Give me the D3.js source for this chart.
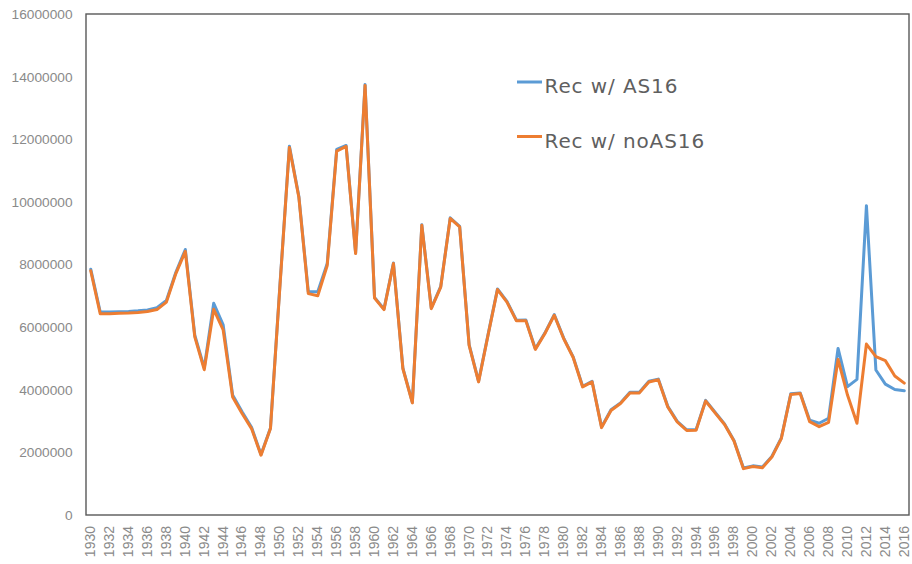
<!DOCTYPE html>
<html>
<head>
<meta charset="utf-8">
<script src="https://cdn.jsdelivr.net/npm/d3@7"></script>
<style>
  html, body { margin: 0; padding: 0; background: #fff; }
  svg { display: block; }
</style>
</head>
<body>
<svg id="chart" width="912" height="564"></svg>
<script>
const years = d3.range(1930, 2017);

const recAS16 = [
  7850000, 6490000, 6480000, 6490000, 6500000, 6520000, 6550000, 6620000, 6850000, 7750000,
  8480000, 5740000, 4700000, 6760000, 6070000, 3830000, 3300000, 2800000, 1930000, 2780000,
  7340000, 11780000, 10180000, 7130000, 7130000, 8030000, 11680000, 11800000, 8370000, 13750000,
  6950000, 6580000, 8050000, 4690000, 3600000, 9270000, 6610000, 7300000, 9490000, 9220000,
  5440000, 4270000, 5760000, 7220000, 6820000, 6220000, 6230000, 5310000, 5810000, 6400000,
  5650000, 5050000, 4110000, 4270000, 2810000, 3360000, 3580000, 3920000, 3920000, 4270000,
  4340000, 3470000, 2990000, 2720000, 2730000, 3660000, 3280000, 2910000, 2380000, 1500000,
  1570000, 1530000, 1870000, 2460000, 3870000, 3900000, 3030000, 2930000, 3090000, 5320000,
  4100000, 4330000, 9880000, 4630000, 4180000, 4010000, 3970000
];

const recNoAS16 = [
  7800000, 6430000, 6430000, 6440000, 6450000, 6470000, 6500000, 6560000, 6800000, 7710000,
  8420000, 5690000, 4640000, 6570000, 5910000, 3770000, 3240000, 2760000, 1910000, 2760000,
  7300000, 11740000, 10150000, 7070000, 7000000, 7970000, 11620000, 11770000, 8350000, 13720000,
  6930000, 6560000, 8030000, 4670000, 3580000, 9250000, 6590000, 7280000, 9470000, 9200000,
  5420000, 4250000, 5740000, 7200000, 6800000, 6200000, 6200000, 5290000, 5790000, 6380000,
  5630000, 5030000, 4090000, 4250000, 2790000, 3340000, 3560000, 3900000, 3900000, 4250000,
  4320000, 3450000, 2970000, 2700000, 2710000, 3640000, 3260000, 2890000, 2360000, 1480000,
  1550000, 1510000, 1850000, 2440000, 3850000, 3880000, 2980000, 2820000, 2960000, 4970000,
  3830000, 2930000, 5460000, 5060000, 4930000, 4440000, 4210000
];

const seriesNames = ["Rec w/ AS16", "Rec w/ noAS16"];
const seriesColors = ["#5B9BD5", "#ED7D31"];
const yTicks = d3.range(0, 16000001, 2000000);
const xTickYears = years.filter(v => v % 2 === 0);

(function () {
  const svg = d3.select("#chart");
  const pL = 86, pR = 909, pT = 14, pB = 515;

  const x = d3.scaleBand().domain(years).range([pL, pR]).paddingInner(0).paddingOuter(0);
  const xc = yr => x(yr) + x.bandwidth() / 2;
  const y = d3.scaleLinear().domain([0, 16000000]).range([pB, pT]);

  // Y axis labels
  const yAxis = d3.axisLeft(y).tickValues(yTicks).tickSize(0).tickPadding(0).tickFormat(d3.format("d"));
  const gy = svg.append("g").attr("transform", `translate(${pL - 13.5},0)`).call(yAxis);
  gy.select(".domain").remove();
  gy.selectAll("text")
    .attr("font-family", "'Liberation Sans', Arial, sans-serif")
    .attr("font-size", "13.7px")
    .attr("fill", "#8a8a8a");

  // X axis labels
  const xAxis = d3.axisBottom(x).tickValues(xTickYears).tickSize(0).tickFormat(d3.format("d"));
  const gx = svg.append("g").attr("transform", `translate(0,${pB})`).call(xAxis);
  gx.select(".domain").remove();
  gx.selectAll("text")
    .attr("font-family", "'Liberation Sans', Arial, sans-serif")
    .attr("font-size", "14px")
    .attr("fill", "#8a8a8a")
    .attr("text-anchor", "end")
    .attr("transform", "rotate(-90)")
    .attr("x", -11)
    .attr("y", -0.5)
    .attr("dy", "0.35em");

  // Lines
  const line = d3.line().x((d, i) => xc(years[i])).y(d => y(d));
  [recAS16, recNoAS16].forEach((s, k) => {
    svg.append("path")
      .datum(s)
      .attr("d", line)
      .attr("fill", "none")
      .attr("stroke", seriesColors[k])
      .attr("stroke-width", 3)
      .attr("stroke-linejoin", "round")
      .attr("stroke-linecap", "round");
  });

  // Plot area frame
  svg.append("rect")
    .attr("x", pL).attr("y", pT)
    .attr("width", pR - pL).attr("height", pB - pT)
    .attr("fill", "none")
    .attr("stroke", "#595959")
    .attr("stroke-width", 1.4);

  // Legend
  const legend = svg.append("g");
  seriesNames.forEach((name, k) => {
    const ly = 82 + k * 54.5;
    legend.append("line")
      .attr("x1", 517).attr("x2", 542)
      .attr("y1", ly).attr("y2", ly)
      .attr("stroke", seriesColors[k])
      .attr("stroke-width", 3);
    legend.append("text")
      .attr("x", 544.5).attr("y", ly + 11)
      .attr("font-family", "'DejaVu Sans', sans-serif")
      .attr("font-size", "20px")
      .attr("letter-spacing", "0.9px")
      .attr("fill", "#5f5f5f")
      .text(name);
  });
})();
</script>
</body>
</html>
